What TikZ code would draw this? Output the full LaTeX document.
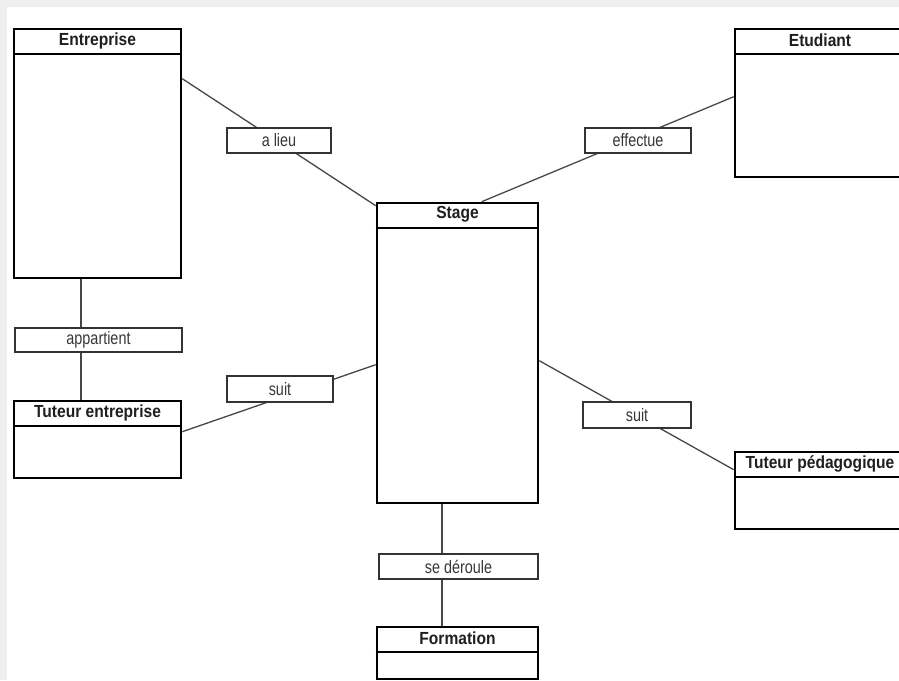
\documentclass[tikz,border=0pt]{standalone}
\usepackage{fontspec}
\setmainfont{Liberation Sans}
\newfontfamily\titlefont[FakeStretch=0.89]{Liberation Sans}
\newfontfamily\labelfont[FakeStretch=0.8]{Liberation Sans}
\definecolor{frame}{HTML}{EFEFEF}
\begin{document}
\begin{tikzpicture}[x=1pt,y=-1pt,
  cls/.style={draw=black, line width=2.6pt, fill=white, inner sep=0pt},
  divider/.style={draw=black, line width=2.4pt},
  title/.style={font=\titlefont\fontsize{17.5}{20}\selectfont\bfseries, text=black!88, inner sep=0pt},
  rel/.style={draw=black!80, line width=1.3pt, fill=white, inner sep=0pt,
    font=\labelfont\fontsize{18}{20}\selectfont, text=black!78},
  conn/.style={draw=black!72, line width=1.3pt}]
\useasboundingbox (0,0) rectangle (899,680);
\clip (0,0) rectangle (899,680);
\fill[frame] (0,0) rectangle (899,680);
\fill[white] (7,7) rectangle (899,680);

% classes
\node[cls, minimum width=167pt, minimum height=249pt] (ent) at (97.5,153.5) {};
\node[cls, minimum width=170pt, minimum height=148pt] (etu) at (820,103) {};
\node[cls, minimum width=161pt, minimum height=300pt] (stage) at (457.5,353) {};
\node[cls, minimum width=167pt, minimum height=77pt] (tent) at (97.5,439.5) {};
\node[cls, minimum width=170pt, minimum height=77pt] (tped) at (820,490.5) {};
\node[cls, minimum width=161pt, minimum height=52pt] (form) at (457.5,653) {};

\foreach \n in {ent,etu,stage,tent,tped,form}{
  \draw[divider] ([yshift=-26pt]\n.north west) -- ([yshift=-26pt]\n.north east);
}

\node[title] (entT) at ([yshift=-13pt]ent.north) {Entreprise};
\node[title] (etuT) at ([yshift=-13pt]etu.north) {Etudiant};
\node[title] (stageT) at ([yshift=-13pt]stage.north) {Stage};
\node[title] (tentT) at ([yshift=-13pt]tent.north) {Tuteur entreprise};
\node[title] (tpedT) at ([yshift=-13pt]tped.north) {Tuteur pédagogique};
\node[title] (formT) at ([yshift=-13pt]form.north) {Formation};

% connectors
\draw[conn] ([yshift=-51pt]ent.north east) -- ([yshift=-4pt]stage.north west);
\draw[conn] ([yshift=-69pt]etu.north west) -- ([xshift=106pt]stage.north west);
\draw[conn] ([xshift=-16.5pt]ent.south) -- ([xshift=-16.5pt]tent.north);
\draw[conn] ([yshift=-32pt]tent.north east) -- ([yshift=-163pt]stage.north west);
\draw[conn] ([yshift=-159pt]stage.north east) -- ([yshift=-19pt]tped.north west);
\draw[conn] ([xshift=-15.5pt]stage.south) -- ([xshift=-15.5pt]form.north);

% relation labels
\node[rel, minimum width=104pt, minimum height=25pt] (alieu) at (279,140.5) {a lieu};
\node[rel, minimum width=106pt, minimum height=25pt] (effectue) at (638,140.5) {effectue};
\node[rel, minimum width=167pt, minimum height=24pt] (appartient) at (98.5,340) {appartient};
\node[rel, minimum width=106pt, minimum height=26pt] (suitA) at (280,389) {suit};
\node[rel, minimum width=108pt, minimum height=26pt] (suitB) at (637,415) {suit};
\node[rel, minimum width=159pt, minimum height=25pt] (deroule) at (458.5,566.5) {se déroule};
\end{tikzpicture}
\end{document}
